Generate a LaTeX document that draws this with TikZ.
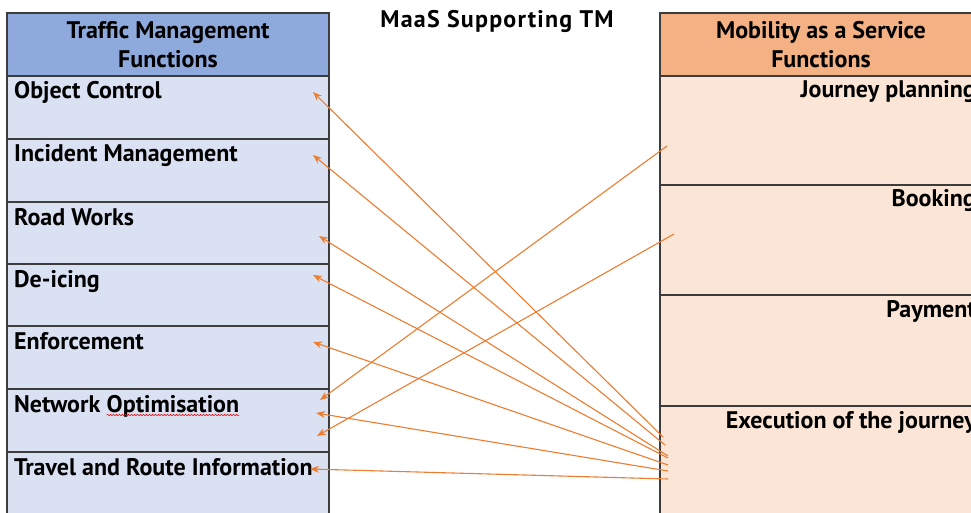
\documentclass[tikz,border=0pt]{standalone}
\usepackage{fontspec}
\setmainfont{PT Sans}
\usetikzlibrary{arrows.meta,decorations.pathmorphing}
\definecolor{tmhead}{HTML}{8EA9DB}
\definecolor{tmrow}{HTML}{D9E1F2}
\definecolor{mhead}{HTML}{F4B183}
\definecolor{mrow}{HTML}{FBE5D6}
\definecolor{edgec}{HTML}{3C3C3C}
\definecolor{arrowc}{HTML}{ED7D31}
\newcommand{\txtfont}{\fontsize{24}{29}\selectfont\bfseries}
\begin{document}
\begin{tikzpicture}[x=1pt,y=-1pt,
  cell/.style={draw=edgec,line width=1.5pt,anchor=north west,inner sep=0pt,outer sep=0pt},
  lcell/.style={cell,fill=tmrow,minimum width=322pt},
  rcell/.style={cell,fill=mrow,minimum width=322pt},
  hdr/.style={cell,minimum width=322pt,minimum height=63pt,align=center,font=\txtfont},
  lbl/.style={anchor=base west,inner sep=0pt,font=\txtfont},
  rlbl/.style={anchor=base east,inner sep=0pt,font=\txtfont},
  spell/.style={draw=red,line width=0.5pt,decorate,decoration={snake,segment length=3pt,amplitude=0.8pt}},
  conn/.style={draw=arrowc,line width=1.1pt,-{Stealth[length=9pt,width=7pt]}}]
\useasboundingbox (0,0) rectangle (971,513);
\clip (0,0) rectangle (971,513);
\fill[white] (0,0) rectangle (971,513);

% title
\node[font=\txtfont\addfontfeature{LetterSpace=5},anchor=base,inner sep=0pt] (title) at (497,28) {MaaS Supporting TM};

% left table
\node[hdr,fill=tmhead] (tmh) at (7,13) {Traffic Management\\Functions};
\node[lcell,minimum height=63pt] (oc) at (7,76) {};
\node[lcell,minimum height=63pt] (im) at (7,139) {};
\node[lcell,minimum height=62pt] (rw) at (7,202) {};
\node[lcell,minimum height=62pt] (di) at (7,264) {};
\node[lcell,minimum height=63pt] (en) at (7,326) {};
\node[lcell,minimum height=63pt] (no) at (7,389) {};
\node[lcell,minimum height=80pt] (tr) at (7,452) {};

\node[lbl] (ocl) at ([xshift=7pt,yshift=-23pt]oc.north west) {Object Control};
\node[lbl] (iml) at ([xshift=7pt,yshift=-23pt]im.north west) {Incident Management};
\node[lbl] (rwl) at ([xshift=7pt,yshift=-23pt]rw.north west) {Road Works};
\node[lbl] (dil) at ([xshift=7pt,yshift=-23pt]di.north west) {De-icing};
\node[lbl] (enl) at ([xshift=7pt,yshift=-23pt]en.north west) {Enforcement};
\node[lbl] (nol) at ([xshift=7pt,yshift=-23pt]no.north west) {Network};
\node[lbl] (nop) at ([xshift=6pt]nol.base east) {Optimisation};
\node[lbl] (trl) at ([xshift=7pt,yshift=-23pt]tr.north west) {Travel and Route Information};
\draw[spell] ([yshift=-3pt]nop.base west) -- ([yshift=-3pt]nop.base east);

% right table
\node[hdr,fill=mhead] (mh) at (660,13) {Mobility as a Service\\Functions};
\node[rcell,minimum height=109pt] (jp) at (660,76) {};
\node[rcell,minimum height=110pt] (bk) at (660,185) {};
\node[rcell,minimum height=111pt] (pm) at (660,295) {};
\node[rcell,minimum height=130pt] (ex) at (660,406) {};

\node[rlbl] (jpl) at ([xshift=-6pt,yshift=-22pt]jp.north east) {Journey planning};
\node[rlbl] (bkl) at ([xshift=-6pt,yshift=-22pt]bk.north east) {Booking};
\node[rlbl] (pml) at ([xshift=-6pt,yshift=-22pt]pm.north east) {Payment};
\node[rlbl] (exl) at ([xshift=-6pt,yshift=-22pt]ex.north east) {Execution of the journey};

% connector ends
\coordinate (sOC) at (663,437); \coordinate (tOC) at (313,92);
\coordinate (sIM) at (665,445); \coordinate (tIM) at (313,155);
\coordinate (sRW) at (668,456); \coordinate (tRW) at (319,236);
\coordinate (sDI) at (668,458); \coordinate (tDI) at (313,275);
\coordinate (sEN) at (668,465); \coordinate (tEN) at (313,342);
\coordinate (sNO) at (668,471); \coordinate (tNO) at (316,413);
\coordinate (sTR) at (668,479); \coordinate (tTR) at (310,469);
\coordinate (sJP) at (667,146); \coordinate (tJP) at (320,400);
\coordinate (sBK) at (674,234); \coordinate (tBK) at (317,436);

\draw[conn] (sOC) -- (tOC);
\draw[conn] (sIM) -- (tIM);
\draw[conn] (sRW) -- (tRW);
\draw[conn] (sDI) -- (tDI);
\draw[conn] (sEN) -- (tEN);
\draw[conn] (sNO) -- (tNO);
\draw[conn] (sTR) -- (tTR);
\draw[conn] (sJP) -- (tJP);
\draw[conn] (sBK) -- (tBK);
\end{tikzpicture}
\end{document}
